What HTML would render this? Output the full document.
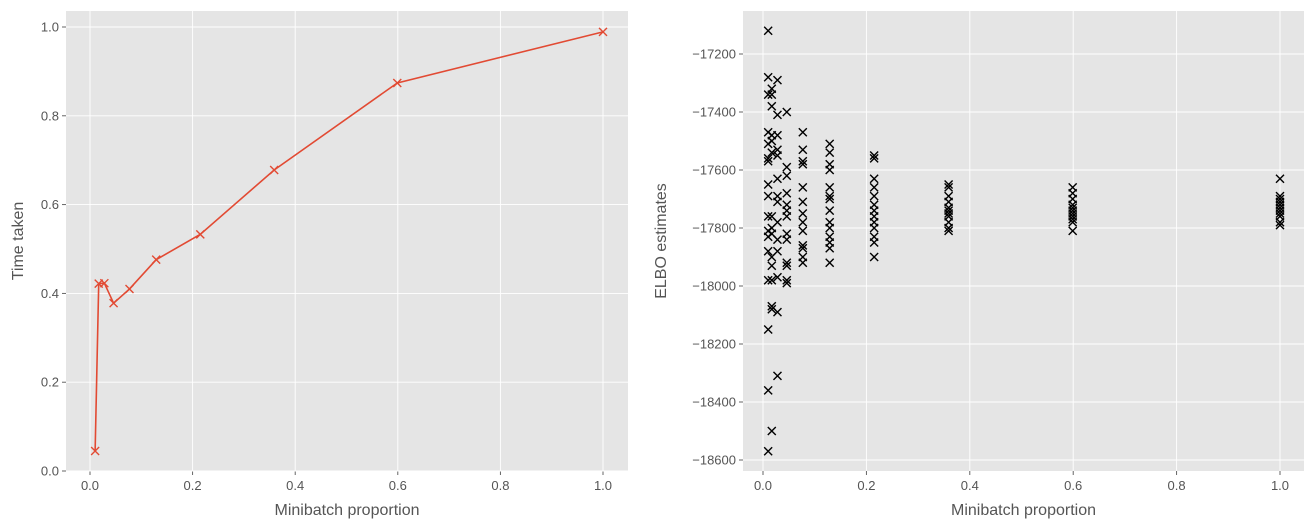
<!DOCTYPE html>
<html><head><meta charset="utf-8"><style>
html,body{margin:0;padding:0;background:#fff}
svg{display:block;font-family:"Liberation Sans","DejaVu Sans",sans-serif}
</style></head><body>
<svg id="fig" width="1315" height="529"></svg>
<script>
const timeX = [0.01, 0.017, 0.028, 0.046, 0.077, 0.129, 0.215, 0.359, 0.599, 1.0];
const timeY = [0.045, 0.422, 0.423, 0.378, 0.41, 0.476, 0.533, 0.678, 0.874, 0.989];
const leftYTicks = [0.0, 0.2, 0.4, 0.6, 0.8, 1.0];
const xTicks = [0.0, 0.2, 0.4, 0.6, 0.8, 1.0];
const elboX = [0.01, 0.017, 0.028, 0.046, 0.077, 0.129, 0.215, 0.359, 0.599, 1.0];
const elboY = [
 [-17120,-17280,-17340,-17470,-17510,-17560,-17570,-17650,-17690,-17760,-17810,-17830,-17880,-17980,-18150,-18360,-18570],
 [-17320,-17340,-17380,-17480,-17500,-17540,-17760,-17800,-17820,-17900,-17930,-17980,-18070,-18080,-18500],
 [-17290,-17410,-17480,-17530,-17550,-17630,-17690,-17710,-17780,-17840,-17880,-17970,-18090,-18310],
 [-17400,-17590,-17620,-17680,-17720,-17740,-17760,-17820,-17840,-17920,-17930,-17980,-17990],
 [-17470,-17530,-17570,-17580,-17660,-17710,-17750,-17780,-17810,-17860,-17870,-17900,-17920],
 [-17510,-17540,-17580,-17600,-17660,-17690,-17700,-17740,-17780,-17800,-17830,-17850,-17870,-17920],
 [-17550,-17560,-17630,-17660,-17690,-17720,-17740,-17760,-17780,-17800,-17830,-17850,-17900],
 [-17650,-17660,-17690,-17710,-17730,-17740,-17750,-17760,-17780,-17800,-17810],
 [-17660,-17680,-17700,-17720,-17730,-17740,-17750,-17760,-17770,-17780,-17810],
 [-17630,-17690,-17700,-17710,-17720,-17730,-17740,-17750,-17760,-17780,-17790]
];
const rightYTicks = [-17200,-17400,-17600,-17800,-18000,-18200,-18400,-18600];

const NS="http://www.w3.org/2000/svg";
const svg=document.getElementById('fig');
function mk(tag,attrs,parent){const e=document.createElementNS(NS,tag);for(const k in attrs)e.setAttribute(k,attrs[k]);(parent||svg).appendChild(e);return e;}
function lin(d0,d1,p0,p1){return v=>p0+(v-d0)/(d1-d0)*(p1-p0);}
function fmt(v,dec){return v<0?'\u2212'+Math.abs(v).toFixed(dec):v.toFixed(dec);}

function axes(name,L,T,R,B,sx,sy,yt,ydec,ylabel,ylx){
  const g=mk('g',{});
  
  
  const bg=mk('rect',{x:L,y:T,width:R-L,height:B-T,fill:'#E5E5E5'},g);
  
  
  xTicks.forEach(t=>{const x=sx(t);
    mk('line',{x1:x,x2:x,y1:T,y2:B,stroke:'#fff','stroke-width':0.9},g);
    mk('line',{x1:x,x2:x,y1:B,y2:B+4,stroke:'#555','stroke-width':0.9},g);
    const tx=mk('text',{x:x,y:B+19,'font-size':13,fill:'#555','text-anchor':'middle'},g);
    tx.textContent=t.toFixed(1);
    
    
  });
  yt.forEach(t=>{const y=sy(t);
    mk('line',{x1:L,x2:R,y1:y,y2:y,stroke:'#fff','stroke-width':0.9},g);
    mk('line',{x1:L-4,x2:L,y1:y,y2:y,stroke:'#555','stroke-width':0.9},g);
    const tx=mk('text',{x:L-7,y:y+4.5,'font-size':13,fill:'#555','text-anchor':'end'},g);
    tx.textContent=fmt(t,ydec);
    
    
  });
  const xl=mk('text',{x:(L+R)/2,y:515,'font-size':16,fill:'#555','text-anchor':'middle'},g);
  xl.textContent='Minibatch proportion';
  
  
  const yl=mk('text',{x:0,y:0,'font-size':16,fill:'#555','text-anchor':'middle',transform:`translate(${ylx},${(T+B)/2}) rotate(-90)`},g);
  yl.textContent=ylabel;
  
  
  return g;
}
function cross(g,x,y,c){mk('path',{d:`M${x-4},${y-4}L${x+4},${y+4}M${x-4},${y+4}L${x+4},${y-4}`,stroke:c,'stroke-width':1.4,fill:'none'},g);}

// Left chart
const sx1=lin(0,1,90,603), sy1=lin(0,1,471,27);
const g1=axes('time-chart',66,11,628,471,sx1,sy1,leftYTicks,1,'Time taken',23);
const pts=timeX.map((v,i)=>sx1(v)+','+sy1(timeY[i])).join(' ');
const pl=mk('polyline',{points:pts,fill:'none',stroke:'#E24A33','stroke-width':1.6},g1);


timeX.forEach((v,i)=>cross(g1,sx1(v),sy1(timeY[i]),'#E24A33'));

// Right chart
const sx2=lin(0,1,763,1280), sy2=lin(-17200,-18600,54,460);
const g2=axes('elbo-chart',743,11,1304,471,sx2,sy2,rightYTicks,0,'ELBO estimates',666);
const sg=mk('g',{},g2);


elboX.forEach((v,i)=>elboY[i].forEach(y=>cross(sg,sx2(v),sy2(y),'#000')));
</script>
</body></html>
